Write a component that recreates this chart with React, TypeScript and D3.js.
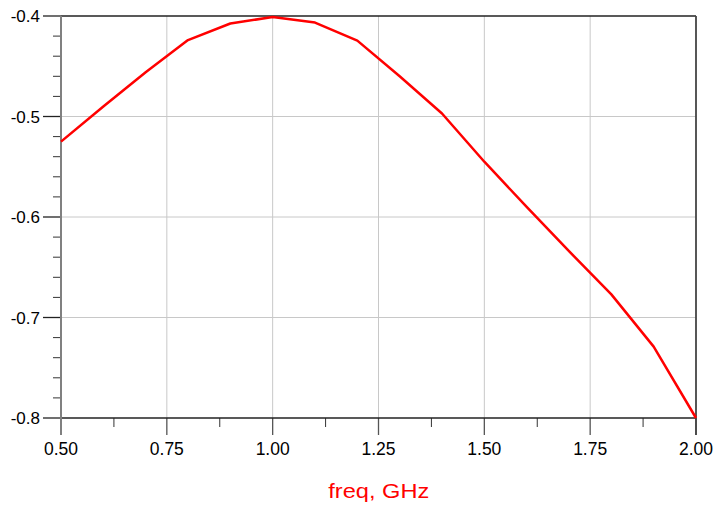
import React from "react";
import * as d3 from "d3";

const freq = [0.5, 0.6, 0.7, 0.8, 0.9, 1.0, 1.1, 1.2, 1.3, 1.4, 1.5, 1.6, 1.7, 1.8, 1.9, 2.0];
const values = [-0.525, -0.49, -0.456, -0.424, -0.4075, -0.401, -0.4065, -0.4245, -0.46, -0.497, -0.545, -0.59, -0.634, -0.677, -0.729, -0.8];
const xTicks = [0.5, 0.75, 1.0, 1.25, 1.5, 1.75, 2.0];
const xMinor = [0.625, 0.875, 1.125, 1.375, 1.625, 1.875];
const yTicks = [-0.4, -0.5, -0.6, -0.7, -0.8];
const yTickLabels = ["-0.4", "-0.5", "-0.6", "-0.7", "-0.8"];
const xLabel = "freq, GHz";

const W = 717;
const H = 506;
const L = 61;
const R = 696;
const T = 16;
const B = 418;

export default function App() {
  const x = d3.scaleLinear().domain([0.5, 2.0]).range([L, R]);
  const y = d3.scaleLinear().domain([-0.8, -0.4]).range([B, T]);
  const yMinor = d3.range(-0.8, -0.4001, 0.02).map((v) => +v.toFixed(3)).filter((v) => !yTicks.some((t) => Math.abs(t - v) < 1e-6));
  const line = d3
    .line<number>()
    .x((_, i) => x(freq[i]))
    .y((d) => y(d));
  const font = "Arial, 'Liberation Sans', sans-serif";
  return (
    <svg
      width={W}
      height={H}
      style={{ position: "absolute", left: 0, top: 0, background: "#fff" }}
    >
      {/* grid */}
      {xTicks.slice(1, -1).map((t) => (
        <line key={"gx" + t} x1={x(t)} x2={x(t)} y1={T} y2={B} stroke="#c8c8c8" strokeWidth={1} />
      ))}
      {yTicks.slice(1, -1).map((t) => (
        <line key={"gy" + t} x1={L} x2={R} y1={y(t)} y2={y(t)} stroke="#c8c8c8" strokeWidth={1} />
      ))}
      {/* y minor ticks */}
      {yMinor.map((t) => (
        <line key={"ym" + t} x1={L - 8} x2={L} y1={y(t)} y2={y(t)} stroke="#333" strokeWidth={1} />
      ))}
      {/* y major ticks */}
      {yTicks.map((t) => (
        <line key={"yt" + t} x1={L - 18} x2={L} y1={y(t)} y2={y(t)} stroke="#222" strokeWidth={1.3} />
      ))}
      {/* x minor ticks */}
      {xMinor.map((t) => (
        <line key={"xm" + t} x1={x(t)} x2={x(t)} y1={B} y2={B + 9} stroke="#333" strokeWidth={1} />
      ))}
      {/* x major ticks */}
      {xTicks.map((t) => (
        <line key={"xt" + t} x1={x(t)} x2={x(t)} y1={B} y2={B + 17} stroke="#555" strokeWidth={1.3} />
      ))}
      {/* frame */}
      <line x1={L} x2={R} y1={T} y2={T} stroke="#222" strokeWidth={1.5} />
      <line x1={L} x2={R} y1={B} y2={B} stroke="#222" strokeWidth={1.5} />
      <line x1={L} x2={L} y1={T} y2={B + 17} stroke="#808080" strokeWidth={2} />
      <line x1={R} x2={R} y1={T} y2={B + 17} stroke="#444" strokeWidth={1.8} />
      {/* data */}
      <path d={line(values) || ""} fill="none" stroke="#ff0000" strokeWidth={2.5} strokeLinejoin="round" />
      {/* labels */}
      {yTicks.map((t, i) => (
        <text key={"yl" + t} x={40} y={y(t) + 6} textAnchor="end" fontFamily={font} fontSize={17} fill="#000">
          {yTickLabels[i]}
        </text>
      ))}
      {xTicks.map((t) => (
        <text key={"xl" + t} x={x(t)} y={455} textAnchor="middle" fontFamily={font} fontSize={17.5} fill="#000">
          {t.toFixed(2)}
        </text>
      ))}
      <text x={378.8} y={498} textAnchor="middle" fontFamily={font} fontSize={21} fill="#ff0000" textLength={101} lengthAdjust="spacingAndGlyphs">
        {xLabel}
      </text>
    </svg>
  );
}
